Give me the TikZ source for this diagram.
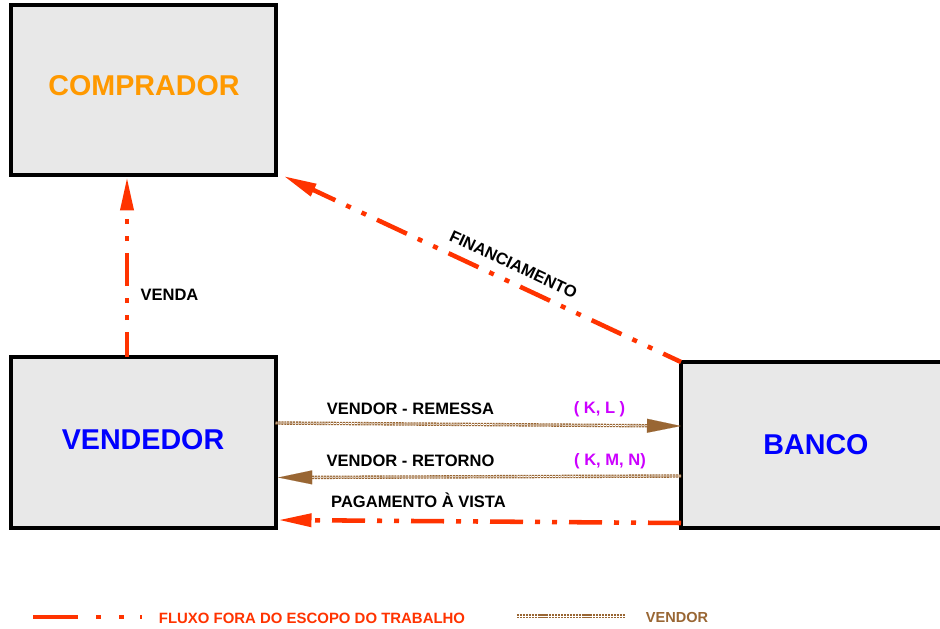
\documentclass[tikz,border=0pt]{standalone}
\usepackage{fontspec}
\setmainfont{Liberation Sans}
\usetikzlibrary{arrows.meta,calc}
\definecolor{boxgray}{HTML}{E8E8E8}
\definecolor{flowred}{HTML}{FF3300}
\definecolor{vbrown}{HTML}{996633}
\definecolor{compor}{HTML}{FF9900}
\definecolor{vblue}{HTML}{0000FF}
\definecolor{kmag}{HTML}{CC00FF}
\begin{document}
\begin{tikzpicture}[x=0.75pt,y=-0.75pt,
  box/.style={draw=black, fill=boxgray, line width=3pt, inner sep=0pt, outer sep=0pt,
    font=\fontsize{21.5}{24}\selectfont\bfseries},
  lbl/.style={font=\fontsize{12.4}{14}\selectfont\bfseries, inner sep=0pt},
  klbl/.style={lbl, text=kmag},
  redflow/.style={draw=flowred, line width=3.4pt, line cap=butt,
    dash pattern=on 24.75pt off 9pt on 3.75pt off 9pt on 3.75pt off 9pt,
    -{Triangle[length=25pt, width=9.5pt]}},
  vtip/.style={draw=vbrown, fill=vbrown, line width=0.1pt,
    -{Triangle[length=25.5pt, width=10.5pt]}},
  vline/.style={draw=vbrown, line width=1pt, double=white, double distance=0.55pt,
    dash pattern=on 1.6pt off 0.6pt},
]
\clip (0,0) rectangle (940,629);
\fill[white] (0,0) rectangle (940,629);

% boxes
\node[box, minimum width=198.75pt, minimum height=127.5pt] (comp) at (143,90) {};
\node[lbl, font=\fontsize{21.5}{24}\selectfont\bfseries, text=compor] (comptxt) at (144,86) {COMPRADOR};
\node[box, minimum width=198.75pt, minimum height=128.25pt] (vend) at (143,442.5) {};
\node[lbl, font=\fontsize{21.5}{24}\selectfont\bfseries, text=vblue] (vendtxt) at (143,440) {VENDEDOR};
\node[box, minimum width=209.25pt, minimum height=124.5pt] (banco) at (820.5,445) {};
\node[lbl, font=\fontsize{21.5}{24}\selectfont\bfseries, text=vblue] (bancotxt) at (816,445) {BANCO};

% helper coordinates
\coordinate (vx) at (127,0);
\coordinate (r1) at (0,423);
\coordinate (r2) at (0,426);
\coordinate (t1) at (0,476);
\coordinate (t2) at (0,477.5);
\coordinate (p1) at (0,523);
\coordinate (p2) at (0,520);
\coordinate (fintip) at ($(comp.south east)+(8,1)$);

% VENDA
\draw[redflow, dash phase=6pt] (vend.north -| vx) -- ([yshift=-1.5pt]comp.south -| vx);
\node[lbl] (venda) at (169.5,295) {VENDA};

% FINANCIAMENTO
\draw[redflow, dash phase=10pt] (banco.north west) -- (fintip)
  node[lbl, pos=0.44, sloped, above=7pt] (fin) {FINANCIAMENTO};

% VENDOR - REMESSA
\draw[vtip] (vend.east |- r1) -- (banco.west |- r2);
\draw[vline, shorten >=25pt] (vend.east |- r1) -- (banco.west |- r2);
\node[lbl] (rem) at (410.5,409) {VENDOR - REMESSA};
\node[klbl] (kl) at (599.5,409) {( K, L )};

% VENDOR - RETORNO
\draw[vtip] (banco.west |- t1) -- ([xshift=2pt]vend.east |- t2);
\draw[vline, shorten >=25pt] (banco.west |- t1) -- ([xshift=2pt]vend.east |- t2);
\node[lbl] (ret) at (410.5,461) {VENDOR - RETORNO};
\node[klbl] (kmn) at (610,461) {( K, M, N)};

% PAGAMENTO A VISTA
\draw[redflow] (banco.west |- p1) -- ([xshift=2pt]vend.east |- p2);
\node[lbl] (pag) at (418.5,500) {PAGAMENTO À VISTA};

% legend
\coordinate (l1a) at (33,617);
\coordinate (l1b) at (142,617);
\draw[draw=flowred, line width=3.4pt, line cap=butt,
  dash pattern=on 33.75pt off 13.5pt on 3.75pt off 13.5pt on 3.75pt off 12pt on 1.5pt off 20pt] (l1a) -- (l1b);
\node[lbl, font=\fontsize{11.2}{13}\selectfont\bfseries, text=flowred] (leg1) at (312,618) {FLUXO FORA DO ESCOPO DO TRABALHO};
\coordinate (l2a) at (517,616);
\coordinate (l2b) at (625,616);
\draw[vline] (l2a) -- (l2b);
\node[lbl, font=\fontsize{10.9}{13}\selectfont\bfseries, text=vbrown] (leg2) at (677,617) {VENDOR};
\end{tikzpicture}
\end{document}
